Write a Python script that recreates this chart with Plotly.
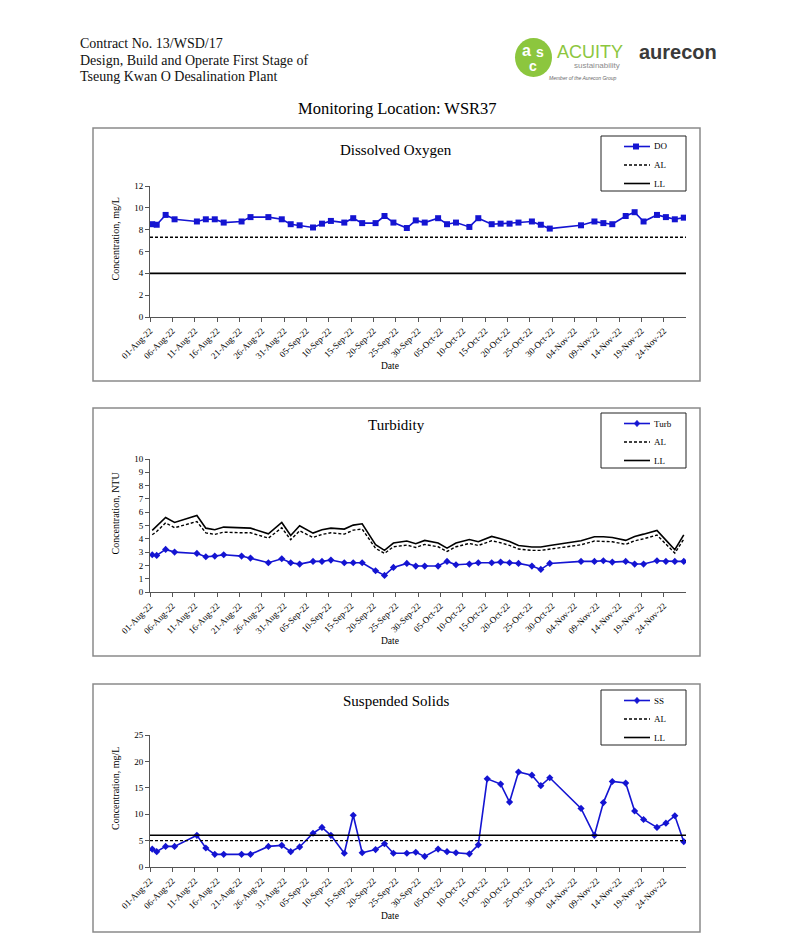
import pandas as pd
import plotly.graph_objects as go

W, H = 794, 950
OFF = 8  # the page body margin shifts the figure by this much

# ---------------- data ----------------
dates = ["2022-08-01", "2022-08-02", "2022-08-04", "2022-08-06", "2022-08-11", "2022-08-13",
         "2022-08-15", "2022-08-17", "2022-08-21", "2022-08-23", "2022-08-27", "2022-08-30",
         "2022-09-01", "2022-09-03", "2022-09-06", "2022-09-08", "2022-09-10", "2022-09-13",
         "2022-09-15", "2022-09-17", "2022-09-20", "2022-09-22", "2022-09-24", "2022-09-27",
         "2022-09-29", "2022-10-01", "2022-10-04", "2022-10-06", "2022-10-08", "2022-10-11",
         "2022-10-13", "2022-10-16", "2022-10-18", "2022-10-20", "2022-10-22", "2022-10-25",
         "2022-10-27", "2022-10-29", "2022-11-05", "2022-11-08", "2022-11-10", "2022-11-12",
         "2022-11-15", "2022-11-17", "2022-11-19", "2022-11-22", "2022-11-24", "2022-11-26",
         "2022-11-28"]

ss_dates = dates[:31] + ["2022-10-15"] + dates[32:]

do_values = [8.5, 8.45, 9.35, 8.95, 8.75, 8.95, 8.95, 8.65, 8.75, 9.15,
             9.15, 8.95, 8.5, 8.4, 8.2, 8.55, 8.8, 8.65, 9.05, 8.6,
             8.6, 9.25, 8.65, 8.15, 8.85, 8.65, 9.05, 8.5, 8.65, 8.25,
             9.05, 8.5, 8.55, 8.55, 8.65, 8.75, 8.45, 8.1, 8.4, 8.75,
             8.6, 8.5, 9.25, 9.6, 8.75, 9.35, 9.15, 8.95, 9.1]
do_al = 7.3
do_ll = 4.0

turb_values = [2.8, 2.75, 3.2, 3.0, 2.9, 2.65, 2.7, 2.8, 2.7, 2.55,
               2.2, 2.5, 2.2, 2.1, 2.3, 2.3, 2.4, 2.2, 2.2, 2.2,
               1.6, 1.25, 1.85, 2.15, 1.95, 1.95, 1.95, 2.3, 2.05, 2.1,
               2.2, 2.2, 2.25, 2.2, 2.15, 1.95, 1.7, 2.15, 2.3, 2.3,
               2.35, 2.25, 2.3, 2.1, 2.1, 2.35, 2.3, 2.3, 2.3]
turb_ll = [4.63, 4.93, 5.6, 5.23, 5.75, 4.8, 4.68, 4.88, 4.8, 4.8,
           4.38, 5.23, 4.25, 4.98, 4.43, 4.68, 4.8, 4.73, 5.03, 5.13,
           3.55, 3.13, 3.68, 3.83, 3.63, 3.88, 3.68, 3.3, 3.68, 3.95,
           3.78, 4.18, 4.0, 3.8, 3.5, 3.38, 3.38, 3.5, 3.85, 4.15,
           4.15, 4.1, 3.88, 4.18, 4.35, 4.63, 3.9, 3.18, 4.3]
turb_al = [4.3, 4.55, 5.2, 4.83, 5.3, 4.45, 4.33, 4.5, 4.45, 4.45,
           4.05, 4.83, 3.93, 4.6, 4.1, 4.33, 4.45, 4.35, 4.65, 4.73,
           3.28, 2.9, 3.4, 3.53, 3.35, 3.58, 3.4, 3.05, 3.4, 3.65,
           3.5, 3.85, 3.7, 3.5, 3.23, 3.13, 3.13, 3.23, 3.55, 3.83,
           3.83, 3.78, 3.58, 3.85, 4.0, 4.28, 3.6, 2.93, 3.97]

ss_values = [3.4, 2.9, 3.9, 3.9, 6.0, 3.6, 2.4, 2.4, 2.4, 2.4,
             3.9, 4.1, 2.9, 3.8, 6.4, 7.5, 6.0, 2.6, 9.8, 2.7,
             3.3, 4.4, 2.6, 2.6, 2.8, 2.0, 3.4, 2.9, 2.7, 2.5,
             4.2, 16.7, 15.7, 12.3, 18.0, 17.4, 15.4, 16.9, 11.1, 6.0,
             12.2, 16.2, 15.9, 10.6, 9.0, 7.5, 8.3, 9.7, 4.8]
ss_al = 5.0
ss_ll = 6.0

axis_start, axis_end = "2022-08-01", "2022-11-29"
tick_dates = pd.date_range("2022-08-01", "2022-11-24", freq="5D")
tick_labels = [d.strftime("%d-%b-%y") for d in tick_dates]

# points sit in the middle of each day slot (date axis, between tick marks)
half_day = pd.Timedelta(hours=12)
x_main = pd.to_datetime(dates) + half_day
x_ss = pd.to_datetime(ss_dates) + half_day

BLUE = "#1414D2"
SERIF = "Liberation Serif"
SANS = "Liberation Sans"
DASH = "3px,2px"

def px_x(v):
    return (v - OFF) / W

def px_y(v):
    return 1 - (v - OFF) / H

fig = go.Figure()

fig.add_trace(go.Scatter(x=x_main, y=do_values, name="DO", mode="lines+markers",
                         line=dict(color=BLUE, width=1.6),
                         marker=dict(symbol="square", size=6, color=BLUE),
                         xaxis="x", yaxis="y", showlegend=False))
fig.add_trace(go.Scatter(x=x_main, y=turb_values, name="Turb", mode="lines+markers",
                         line=dict(color=BLUE, width=1.6),
                         marker=dict(symbol="diamond", size=5.5, color=BLUE),
                         xaxis="x2", yaxis="y2", showlegend=False))
fig.add_trace(go.Scatter(x=x_main, y=turb_al, name="AL", mode="lines",
                         line=dict(color="black", width=1.4, dash=DASH),
                         xaxis="x2", yaxis="y2", showlegend=False))
fig.add_trace(go.Scatter(x=x_main, y=turb_ll, name="LL", mode="lines",
                         line=dict(color="black", width=1.6),
                         xaxis="x2", yaxis="y2", showlegend=False))
fig.add_trace(go.Scatter(x=x_ss, y=ss_values, name="SS", mode="lines+markers",
                         line=dict(color=BLUE, width=1.6),
                         marker=dict(symbol="diamond", size=5.5, color=BLUE),
                         xaxis="x3", yaxis="y3", showlegend=False))

shapes = []
for xr, yref, yv, dash, wdt in [("x domain", "y", do_al, DASH, 1.4),
                                ("x domain", "y", do_ll, "solid", 1.6),
                                ("x3 domain", "y3", ss_al, DASH, 1.4),
                                ("x3 domain", "y3", ss_ll, "solid", 1.6)]:
    shapes.append(dict(type="line", xref=xr, x0=0, x1=1, yref=yref, y0=yv, y1=yv,
                       line=dict(color="black", width=wdt, dash=dash), layer="above"))

def prect(x0, y0, x1, y1, **kw):
    shapes.append(dict(type="rect", xref="paper", yref="paper",
                       x0=px_x(x0), x1=px_x(x1), y0=px_y(y1), y1=px_y(y0), **kw))

def pline(x0, y0, x1, y1, color="black", width=1.5, dash="solid"):
    shapes.append(dict(type="line", xref="paper", yref="paper",
                       x0=px_x(x0), x1=px_x(x1), y0=px_y(y0), y1=px_y(y1),
                       line=dict(color=color, width=width, dash=dash)))

def pdiamond(cx, cy, r=3.3):
    pts = [(cx, cy - r), (cx + r * 0.85, cy), (cx, cy + r), (cx - r * 0.85, cy)]
    path = "M " + " L ".join(f"{px_x(a):.5f},{px_y(b):.5f}" for a, b in pts) + " Z"
    shapes.append(dict(type="path", xref="paper", yref="paper", path=path,
                       fillcolor=BLUE, line=dict(color=BLUE, width=0.5)))

# chart frames
for top, bot in [(128, 381), (408, 656), (684, 932)]:
    prect(93, top, 700, bot, line=dict(color="#8a8a8a", width=1.5), layer="below")

# ACUITY logo circle
shapes.append(dict(type="circle", xref="paper", yref="paper",
                   x0=px_x(515), x1=px_x(552), y0=px_y(77), y1=px_y(38),
                   fillcolor="#8CC63E", line=dict(width=0)))

x_dom = [px_x(150), px_x(686)]
plots = [
    (317, 186, [0, 12], 2, "Concentration, mg/L", "Dissolved Oxygen", 150, 136, "DO", "square"),
    (592, 459, [0, 10], 1, "Concentration, NTU", "Turbidity", 425, 413, "Turb", "diamond"),
    (867, 735, [0, 25], 5, "Concentration, mg/L", "Suspended Solids", 701, 690, "SS", "diamond"),
]

layout = dict(width=W, height=H, autosize=False, margin=dict(l=0, r=0, t=0, b=0, pad=0),
              paper_bgcolor="white", plot_bgcolor="white", showlegend=False,
              font=dict(family=SERIF, size=9, color="black"))

annotations = []

def ann(text, x, y, size, xanchor="center", yanchor="middle", color="black",
        family=SERIF, angle=0):
    annotations.append(dict(text=text, x=px_x(x), y=px_y(y), xref="paper", yref="paper",
                            xanchor=xanchor, yanchor=yanchor, showarrow=False,
                            textangle=angle, font=dict(family=family, size=size, color=color)))

for i, (y0, yt, rng, dt, ytitle, title, ty, ltop, sname, sym) in enumerate(plots):
    sfx = "" if i == 0 else str(i + 1)
    layout["xaxis" + sfx] = dict(domain=x_dom, anchor="y" + sfx, type="date",
                                 range=[axis_start, axis_end], tickmode="array",
                                 tickvals=tick_dates, ticktext=tick_labels, tickangle=-45,
                                 ticks="outside", ticklen=4, tickcolor="#555",
                                 showline=True, linecolor="#555", linewidth=1,
                                 showgrid=False, zeroline=False, automargin=False,
                                 tickfont=dict(family=SERIF, size=9))
    layout["yaxis" + sfx] = dict(domain=[px_y(y0), px_y(yt)], anchor="x" + sfx,
                                 range=rng, dtick=dt, ticks="outside", ticklen=4,
                                 tickcolor="#555", showline=True, linecolor="#555",
                                 linewidth=1, showgrid=False, zeroline=False,
                                 automargin=False, tickfont=dict(family=SERIF, size=9))
    ann(title, 396, ty, 15)
    ann(ytitle, 115, (y0 + yt) / 2 - 12, 10, angle=-90)
    ann("Date", 390, y0 + 49, 9.5)

    # legend box
    prect(601, ltop, 686, ltop + 55, line=dict(color="#222", width=1), fillcolor="white")
    rows = [ltop + 10.5, ltop + 29, ltop + 47.5]
    pline(624, rows[0], 650, rows[0], color=BLUE, width=1.6)
    if sym == "square":
        prect(633, rows[0] - 3, 639, rows[0] + 3, fillcolor=BLUE, line=dict(width=0))
    else:
        pdiamond(637, rows[0])
    pline(624, rows[1], 650, rows[1], width=1.4, dash=DASH)
    pline(624, rows[2], 650, rows[2], width=1.6)
    for txt, ry in zip([sname, "AL", "LL"], rows):
        ann(txt, 652, ry, 9, xanchor="left")

# header
for txt, yy in [("Contract No. 13/WSD/17", 43), ("Design, Build and Operate First Stage of", 60),
                ("Tseung Kwan O Desalination Plant", 77)]:
    ann(txt, 78, yy, 14, xanchor="left", color="#111")
ann("Monitoring Location: WSR37", 397, 108, 16.5)

# logos
ann("<b>a</b>", 526, 50, 16, color="white", family=SANS)
ann("<b>s</b>", 540, 52, 14, color="white", family=SANS)
ann("<b>c</b>", 533, 66, 14, color="white", family=SANS)
ann("ACUITY", 555, 52, 18, xanchor="left", color="#8CC63E", family=SANS)
ann("sustainability", 622, 66, 8, xanchor="right", color="#8c8c8c", family=SANS)
ann("<i>Member of the Aurecon Group</i>", 583, 78, 5, color="#666", family=SANS)
ann("<b>aurecon</b>", 637, 52, 20, xanchor="left", color="#3a3a3a", family=SANS)

layout["annotations"] = annotations
layout["shapes"] = shapes
fig.update_layout(**layout)

fig.write_html("out.html")
